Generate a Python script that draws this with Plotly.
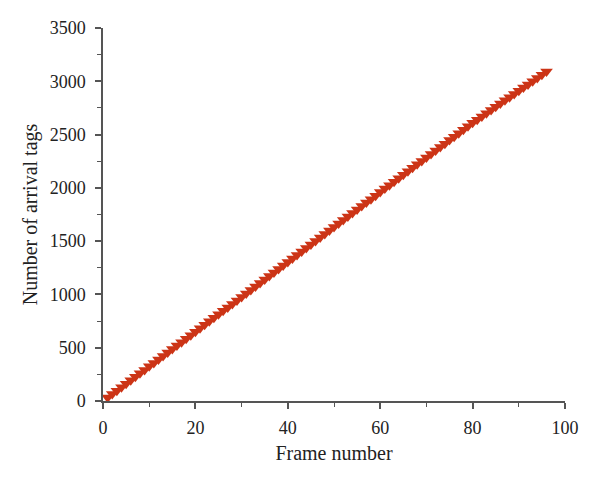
import plotly.graph_objects as go

frames = list(range(1, 97))
arrival_tags = [
    32, 65, 97, 130, 162, 195, 227, 260, 292, 325,
    357, 390, 422, 455, 487, 520, 552, 585, 617, 650,
    682, 715, 748, 780, 813, 846, 878, 911, 944, 976,
    1009, 1042, 1075, 1107, 1140, 1173, 1206, 1238, 1271, 1304,
    1337, 1370, 1403, 1436, 1468, 1501, 1534, 1567, 1600, 1632,
    1665, 1698, 1731, 1763, 1796, 1829, 1862, 1894, 1927, 1960,
    1993, 2025, 2058, 2090, 2123, 2156, 2188, 2221, 2253, 2286,
    2318, 2351, 2383, 2415, 2448, 2480, 2513, 2545, 2577, 2610,
    2640, 2670, 2701, 2731, 2761, 2791, 2821, 2851, 2881, 2911,
    2941, 2971, 3001, 3031, 3061, 3091,
]
x_ticks = [0, 20, 40, 60, 80, 100]
y_ticks = [0, 500, 1000, 1500, 2000, 2500, 3000, 3500]

FONT = "Liberation Serif"
AXIS_COLOR = "#555555"

fig = go.Figure()
fig.add_trace(go.Scatter(
    x=frames, y=arrival_tags, mode="markers",
    marker=dict(symbol="triangle-down", size=11, color="#CC3416",
                line=dict(width=0)),
    showlegend=False,
))

fig.update_layout(
    width=600, height=482,
    margin=dict(l=95, r=43, t=20, b=89),
    plot_bgcolor="white", paper_bgcolor="white",
    font=dict(family=FONT, size=18, color="#222222"),
)
fig.update_xaxes(
    range=[0, 100], tickvals=x_ticks, showgrid=False, zeroline=False,
    automargin=False,
    showline=True, linecolor=AXIS_COLOR, linewidth=1.5,
    ticks="outside", ticklen=6, tickwidth=1.5, tickcolor=AXIS_COLOR,
    minor=dict(ticks="outside", ticklen=4, tickwidth=1.2, tickcolor=AXIS_COLOR, dtick=10, tick0=0),
    title=dict(text="Frame number", font=dict(size=20), standoff=9),
    tickfont=dict(size=18), ticklabelstandoff=4,
)
fig.update_yaxes(
    range=[0, 3500], tickvals=y_ticks, showgrid=False, zeroline=False,
    automargin=False,
    showline=True, linecolor=AXIS_COLOR, linewidth=1.5,
    ticks="outside", ticklen=6, tickwidth=1.5, tickcolor=AXIS_COLOR,
    minor=dict(ticks="outside", ticklen=4, tickwidth=1.2, tickcolor=AXIS_COLOR, dtick=250, tick0=0),
    title=dict(text="Number of arrival tags", font=dict(size=20), standoff=7),
    tickfont=dict(size=18), ticklabelstandoff=6,
)

fig.write_html("out.html")
